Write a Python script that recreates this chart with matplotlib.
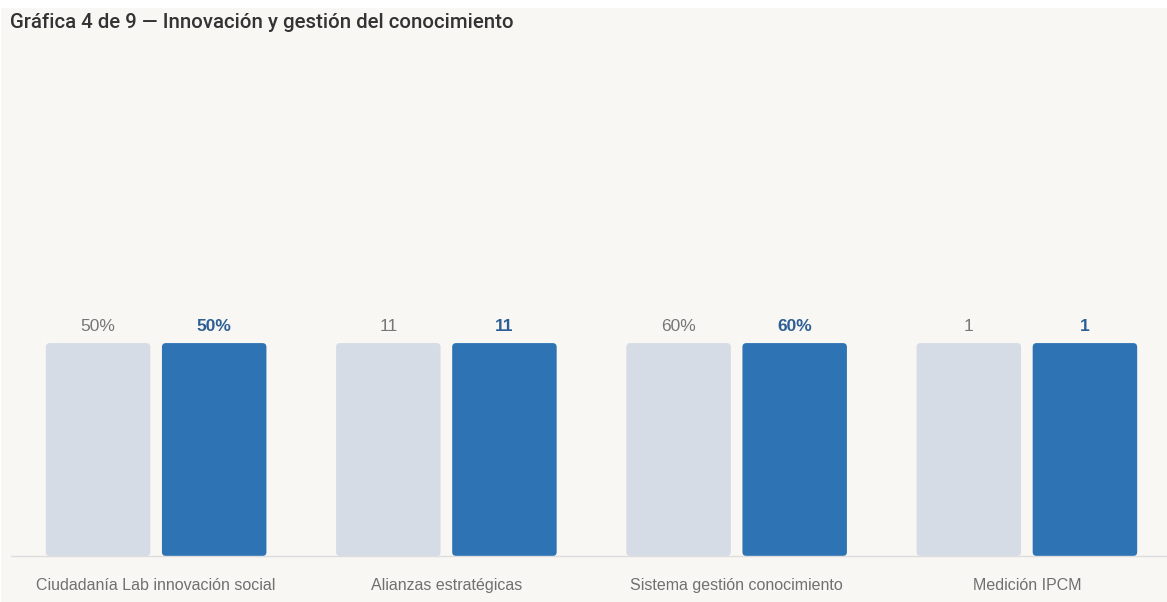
import matplotlib
matplotlib.use("Agg")
import matplotlib.pyplot as plt
from matplotlib.patches import FancyBboxPatch, Rectangle

# Indicator data: target (meta) and achieved (logro) per indicator
categories = ["Ciudadanía Lab innovación social", "Alianzas estratégicas",
              "Sistema gestión conocimiento", "Medición IPCM"]
meta_values = [50, 11, 60, 1]
logro_values = [50, 11, 60, 1]
value_suffix = ["%", "", "%", ""]

title = "Gráfica 4 de 9 — Innovación y gestión del conocimiento"

W, H = 1167, 602
fig = plt.figure(figsize=(W / 100, H / 100), dpi=100, facecolor="white")
fig.patches.append(Rectangle((1 / W, 0), 1 - 1 / W, 1 - 8 / H, transform=fig.transFigure,
                             facecolor="#f8f7f4", edgecolor="none", zorder=-10))

ax = fig.add_axes([11 / W, 1 - 556 / H, 1161 / W, (556 - 45) / H])
ax.set_facecolor("none")

# Each bar is drawn as a percentage of its group's target
meta_pct = [100 * m / m for m in meta_values]
logro_pct = [100 * l / m for l, m in zip(logro_values, meta_values)]

x = list(range(len(categories)))
bw = 0.36
off = 0.2
gray_c = "#d5dce5"
blue_c = "#2e74b5"

bars_meta = ax.bar([i - off for i in x], meta_pct, width=bw, color=gray_c)
bars_logro = ax.bar([i + off for i in x], logro_pct, width=bw, color=blue_c)

ax.set_xlim(-0.5, len(categories) - 0.5)
ax.set_ylim(0, 240)

# Swap plain rectangles for rounded ones
fig.canvas.draw()
px_per_x = ax.transData.transform((1, 0))[0] - ax.transData.transform((0, 0))[0]
px_per_y = ax.transData.transform((0, 1))[1] - ax.transData.transform((0, 0))[1]
rs = 4 / px_per_x
for bars in (bars_meta, bars_logro):
    for b in bars:
        b.set_visible(False)
        p = FancyBboxPatch((b.get_x(), b.get_y()), b.get_width(), b.get_height(),
                           boxstyle=f"round,pad=0,rounding_size={rs}",
                           mutation_aspect=px_per_x / px_per_y,
                           facecolor=b.get_facecolor(), edgecolor="none", zorder=2)
        ax.add_patch(p)

font = "Liberation Sans"
for b, v, s in zip(bars_meta, meta_values, value_suffix):
    ax.annotate(f"{v}{s}", (b.get_x() + b.get_width() / 2, b.get_height()),
                xytext=(0, 12.3), textcoords="offset points", ha="center", va="center",
                fontsize=12.5, color="#777777", family=font)
for b, v, s in zip(bars_logro, logro_values, value_suffix):
    ax.annotate(f"{v}{s}", (b.get_x() + b.get_width() / 2, b.get_height()),
                xytext=(0, 12.3), textcoords="offset points", ha="center", va="center",
                fontsize=12.5, color="#2d5f96", fontweight="bold", family=font)

ax.set_xticks(x)
ax.set_xticklabels(categories, fontsize=11.5, color="#707070", family=font)
ax.tick_params(axis="x", length=0, pad=15.5)
ax.set_yticks([])
for sp in ("top", "right", "left"):
    ax.spines[sp].set_visible(False)
ax.spines["bottom"].set_color("#dddddd")
ax.spines["bottom"].set_linewidth(1)

fig.text(10 / W, 1 - 23 / H, title, ha="left", va="center", fontsize=14.7,
         color="#333333", family="Roboto", fontweight="medium")

fig.savefig("out.png", dpi=100, facecolor=fig.get_facecolor())
